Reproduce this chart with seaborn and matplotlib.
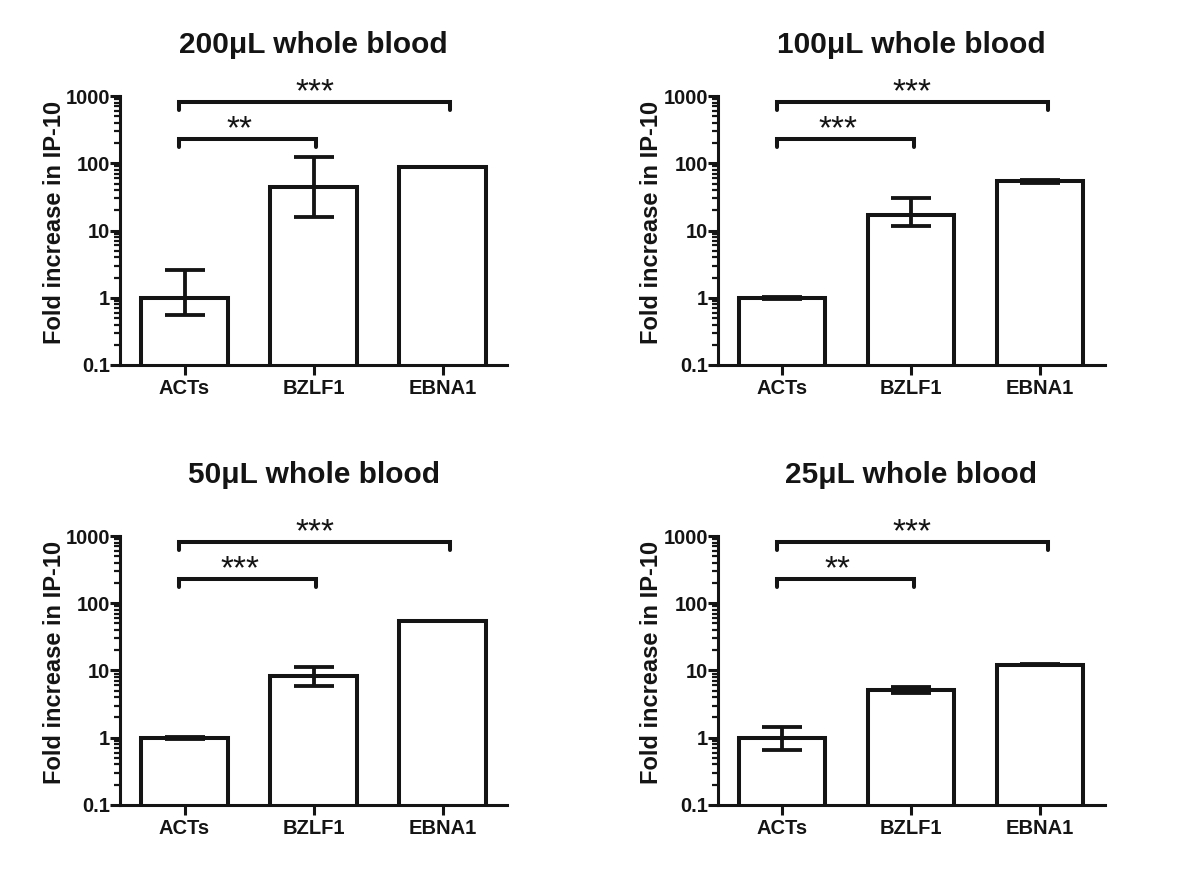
import matplotlib
matplotlib.use("Agg")
import matplotlib.pyplot as plt
import matplotlib.ticker as mticker
import numpy as np
import pandas as pd
import seaborn as sns

# Data

categories = ["ACTs", "BZLF1", "EBNA1"]
titles = ["200μL whole blood", "100μL whole blood", "50μL whole blood", "25μL whole blood"]

mean_200 = [1.0, 45, 87]
low_200 = [0.55, 16, 87]
high_200 = [2.6, 125, 87]

mean_100 = [1.0, 17, 54]
low_100 = [0.97, 11.8, 51]
high_100 = [1.03, 30, 56]

mean_50 = [1.0, 8.3, 55]
low_50 = [0.97, 5.9, 55]
high_50 = [1.03, 11.4, 55]

mean_25 = [1.0, 5.1, 12.2]
low_25 = [0.66, 4.6, 12.0]
high_25 = [1.45, 5.7, 12.4]

stars_short = ["**", "***", "***", "**"]
stars_long = ["***", "***", "***", "***"]
bracket_short = 229
bracket_long = 810

panels = [
    (mean_200, low_200, high_200),
    (mean_100, low_100, high_100),
    (mean_50, low_50, high_50),
    (mean_25, low_25, high_25),
]

# Style

sns.set_style("ticks")
plt.rcParams["font.family"] = ["Liberation Sans", "DejaVu Sans"]
plt.rcParams["font.weight"] = "bold"

LW = 2.9
INK = "#141414"

fig = plt.figure(figsize=(12, 8.81), dpi=100)

positions = [
    [0.100, 0.5857, 0.3225, 0.3053],
    [0.598, 0.5857, 0.3225, 0.3053],
    [0.100, 0.0863, 0.3225, 0.3053],
    [0.598, 0.0863, 0.3225, 0.3053],
]
title_pads = [31, 31, 38, 38]

for i, (means, lows, highs) in enumerate(panels):
    ax = fig.add_axes(positions[i])

    df = pd.DataFrame({"group": categories, "fold": means})

    sns.barplot(
        data=df,
        x="group",
        y="fold",
        ax=ax,
        fill=False,
        edgecolor=INK,
        linewidth=LW,
        width=0.67,
        errorbar=None,
        log_scale=(False, True),
    )

    # Error bars
    m = np.array(means)
    yerr = np.vstack([m - np.array(lows), np.array(highs) - m])
    ax.errorbar(
        np.arange(len(categories)),
        m,
        yerr=yerr,
        fmt="none",
        ecolor=INK,
        elinewidth=LW * 0.95,
        capsize=14.5,
        capthick=LW * 0.95,
        zorder=3,
    )

    ax.set_yscale("log")
    ax.set_ylim(0.1, 1000)
    ax.set_xlim(-0.5, 2.5)

    ax.yaxis.set_major_locator(mticker.FixedLocator([0.1, 1, 10, 100, 1000]))
    ax.yaxis.set_major_formatter(mticker.FixedFormatter(["0.1", "1", "10", "100", "1000"]))
    ax.yaxis.set_minor_locator(mticker.LogLocator(base=10, subs=np.arange(2, 10)))
    ax.yaxis.set_minor_formatter(mticker.NullFormatter())

    ax.tick_params(axis="y", which="major", length=7, width=2.2, labelsize=14.5,
                   direction="out", pad=0, color=INK, labelcolor=INK)
    ax.tick_params(axis="y", which="minor", length=4.5, width=1.6,
                   direction="out", color=INK)
    ax.tick_params(axis="x", which="major", length=7, width=2.2, labelsize=14.5,
                   direction="out", pad=3, color=INK, labelcolor=INK)
    for lbl in ax.get_xticklabels() + ax.get_yticklabels():
        lbl.set_fontweight("bold")

    sns.despine(ax=ax)
    for side in ["left", "bottom"]:
        ax.spines[side].set_linewidth(2.2)
        ax.spines[side].set_color(INK)

    ax.set_xlabel("")
    ax.set_ylabel("Fold increase in IP-10", fontsize=17, fontweight="bold", color=INK)
    ax.yaxis.set_label_coords(-0.14, 0.53)
    ax.set_title(titles[i], fontsize=21.5, fontweight="bold", pad=title_pads[i],
                 color=INK)

    # Significance brackets
    drop = 0.76
    for y, x0, x1, label, shift in [
        (bracket_short, -0.04, 1.02, stars_short[i], -0.06),
        (bracket_long, -0.04, 2.06, stars_long[i], 0.0),
    ]:
        ax.plot([x0, x0, x1, x1], [y * drop, y, y, y * drop],
                color=INK, lw=LW, clip_on=False, solid_joinstyle="miter")
        ax.text((x0 + x1) / 2 + shift, y * 0.8, label,
                ha="center", va="bottom", fontsize=24, fontweight="normal",
                color=INK)

fig.savefig("out.png", dpi=100)
